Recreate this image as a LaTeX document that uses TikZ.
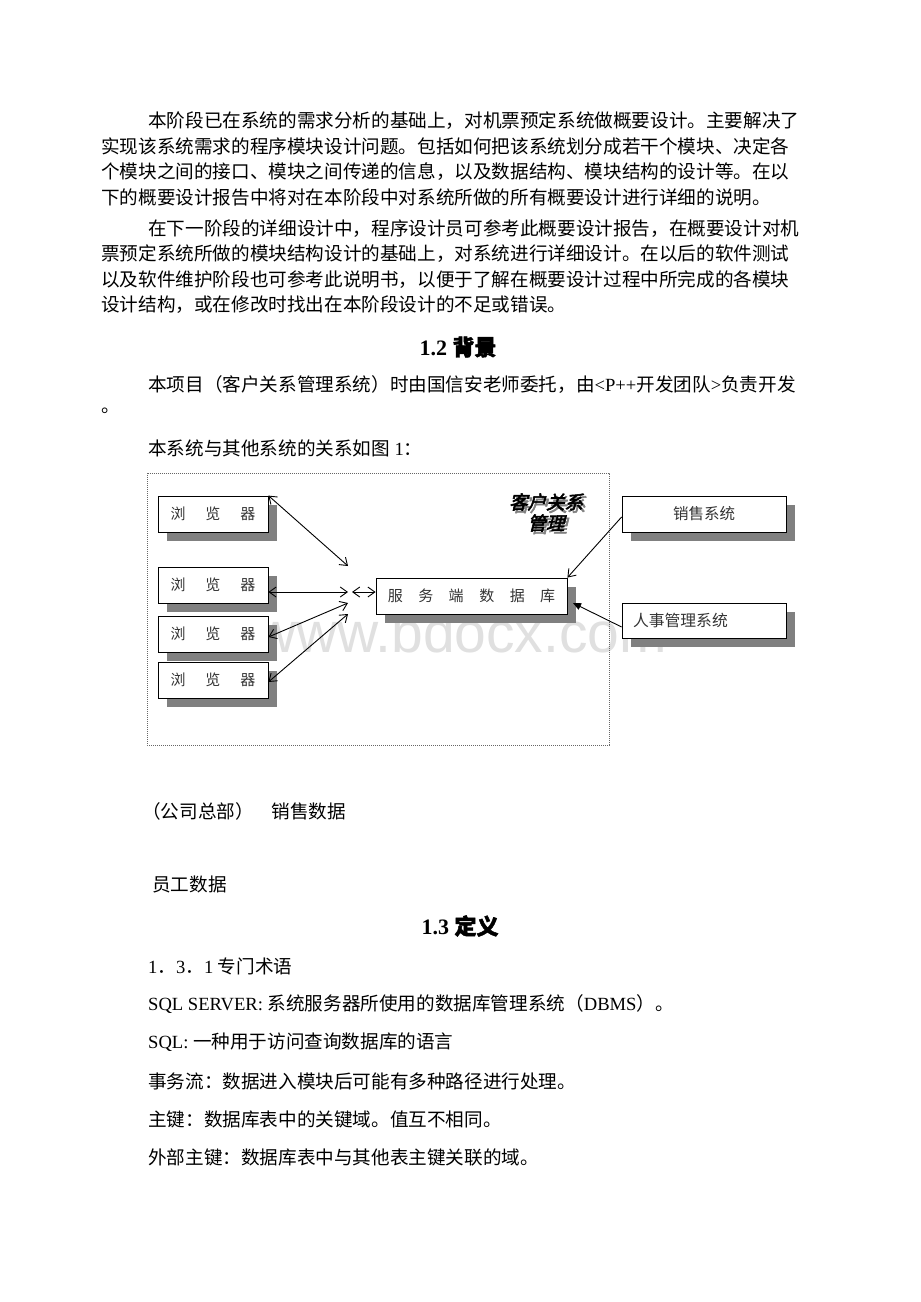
\documentclass[tikz,border=0pt]{standalone}
\usepackage{fontspec}
\setmainfont{Liberation Serif}
\newfontfamily\cjk{Noto Sans CJK SC}
\newfontfamily\cjkbi{Noto Sans CJK SC}[FakeSlant=0.25,FakeBold=3]
\newfontfamily\cjkbd{Noto Sans CJK SC}[FakeBold=2]
\newfontfamily\wmfam{Liberation Sans}
\usetikzlibrary{arrows.meta,shadows}
\newcommand\bodyfont{\fontsize{18.6bp}{22bp}\selectfont}
\newcommand\headfont{\fontsize{22bp}{26bp}\selectfont\bfseries}
\tikzset{
  wbox/.style={draw=black, line width=0.8bp, fill=white, inner sep=0,
    minimum height=36bp, font=\cjk\fontsize{15bp}{15bp}\selectfont, text=black!80,
    drop shadow={shadow xshift=9bp, shadow yshift=-9bp, fill=black!50, opacity=1}},
  dbl/.style={{Straight Barb[length=7bp,width=10bp]}-{Straight Barb[length=7bp,width=10bp]}, line width=0.9bp},
  one/.style={-{Straight Barb[length=7bp,width=10bp]}, line width=0.9bp},
  onefill/.style={-{Triangle[length=8bp,width=7bp]}, line width=0.9bp},
  body/.style={anchor=west, inner sep=0, font=\bodyfont},
  head/.style={inner sep=0, font=\headfont},
  titletext/.style={inner sep=0, font=\cjkbi\fontsize{18.5bp}{18.5bp}\selectfont},
}
\begin{document}
\begin{tikzpicture}[x=1bp,y=-1bp]
\useasboundingbox[fill=white] (0,0) rectangle (920,1302);

% paragraph 1
\node[body] (p1a) at (148,121) {\cjk 本阶段已在系统的需求分析的基础上，对机票预定系统做概要设计。主要解决了};
\node[body] (p1b) at (101,146.5) {\cjk 实现该系统需求的程序模块设计问题。包括如何把该系统划分成若干个模块、决定各};
\node[body] (p1c) at (101,172) {\cjk 个模块之间的接口、模块之间传递的信息，以及数据结构、模块结构的设计等。在以};
\node[body] (p1d) at (101,197.5) {\cjk 下的概要设计报告中将对在本阶段中对系统所做的所有概要设计进行详细的说明。};
% paragraph 2
\node[body] (p2a) at (148,228.5) {\cjk 在下一阶段的详细设计中，程序设计员可参考此概要设计报告，在概要设计对机};
\node[body] (p2b) at (101,254) {\cjk 票预定系统所做的模块结构设计的基础上，对系统进行详细设计。在以后的软件测试};
\node[body] (p2c) at (101,279.5) {\cjk 以及软件维护阶段也可参考此说明书，以便于了解在概要设计过程中所完成的各模块};
\node[body] (p2d) at (101,305) {\cjk 设计结构，或在修改时找出在本阶段设计的不足或错误。};

\node[head] (h12) at (458,347) {1.2 {\cjkbd 背景}};
\node[body] (bg1) at (148,385) {{\cjk 本项目（客户关系管理系统）时由国信安老师委托，由}<P++{\cjk 开发团队}>{\cjk 负责开发}};
\node[body] (bg2) at (101,411) {\cjk 。};
\node[body] (bg3) at (148,448) {{\cjk 本系统与其他系统的关系如图} 1{\cjk ：}};

% watermark
\node[anchor=base west, inner sep=0, text=black!12, font=\wmfam\fontsize{57bp}{60bp}\selectfont] (wm) at (255,652) {www.bdocx.com};

% diagram frame
\draw[black!60, line width=0.8bp, dash pattern=on 1bp off 1bp] (147,473) rectangle (609,745);

% title in frame
\node[titletext, text=black!50] at (548.5,504.5) {客户关系};
\node[titletext, text=black!50] at (548.5,525.5) {管理};
\node[titletext] (t1) at (546,502) {客户关系};
\node[titletext] (t2) at (546,523) {管理};

% boxes
\node[wbox, minimum width=110bp] (b1) at (213,514) {浏\hspace{20bp}览\hspace{20bp}器};
\node[wbox, minimum width=110bp] (b2) at (213,585) {浏\hspace{20bp}览\hspace{20bp}器};
\node[wbox, minimum width=110bp] (b3) at (213,634) {浏\hspace{20bp}览\hspace{20bp}器};
\node[wbox, minimum width=110bp] (b4) at (213,680) {浏\hspace{20bp}览\hspace{20bp}器};
\node[wbox, minimum width=191bp] (srv) at (471.5,596) {服\hspace{15.5bp}务\hspace{15.5bp}端\hspace{15.5bp}数\hspace{15.5bp}据\hspace{15.5bp}库};
\node[wbox, minimum width=164bp, font=\cjk\fontsize{15.5bp}{15.5bp}\selectfont] (sale) at (704,514) {销售系统};
\node[wbox, minimum width=164bp, minimum height=35bp, text width=142bp, align=left,
      font=\cjk\fontsize{15.8bp}{15.8bp}\selectfont] (hr) at (704,620.5) {人事管理系统};

% connectors
\coordinate (h1) at (348,566);
\coordinate (h2) at (348,592);
\coordinate (h2b) at (352,592);
\coordinate (h3) at (348,603);
\coordinate (h4) at (348,614);
\coordinate (srvr) at (573,603);
\draw[dbl] (b1.north east) -- (h1);
\draw[dbl] (b2.east |- h2) -- (h2);
\draw[dbl] (h2b) -- (srv.west |- h2b);
\draw[dbl] ([yshift=-3bp]b3.east) -- (h3);
\draw[dbl] ([yshift=-2bp]b4.east) -- (h4);
\draw[one] ([yshift=-3bp]sale.west) -- (srv.north east);
\draw[onefill] ([yshift=-6.5bp]hr.west) -- (srvr);

% below diagram
\node[body] (hq) at (142,811) {\cjk （公司总部）\hspace{18bp}销售数据};
\node[body] (emp) at (152,884) {\cjk 员工数据};

\node[head] (h13) at (460,926) {1.3 {\cjkbd 定义}};
\node[body] (d0) at (148,966) {1{\cjk ．}3{\cjk ．}1 {\cjk 专门术语}};
\node[body] (d1) at (148,1004) {SQL SERVER: {\cjk 系统服务器所使用的数据库管理系统（}DBMS{\cjk ）。}};
\node[body] (d2) at (148,1042) {SQL: {\cjk 一种用于访问查询数据库的语言}};
\node[body] (d3) at (148,1081) {\cjk 事务流：数据进入模块后可能有多种路径进行处理。};
\node[body] (d4) at (148,1119) {\cjk 主键：数据库表中的关键域。值互不相同。};
\node[body] (d5) at (148,1157) {\cjk 外部主键：数据库表中与其他表主键关联的域。};
\end{tikzpicture}
\end{document}
